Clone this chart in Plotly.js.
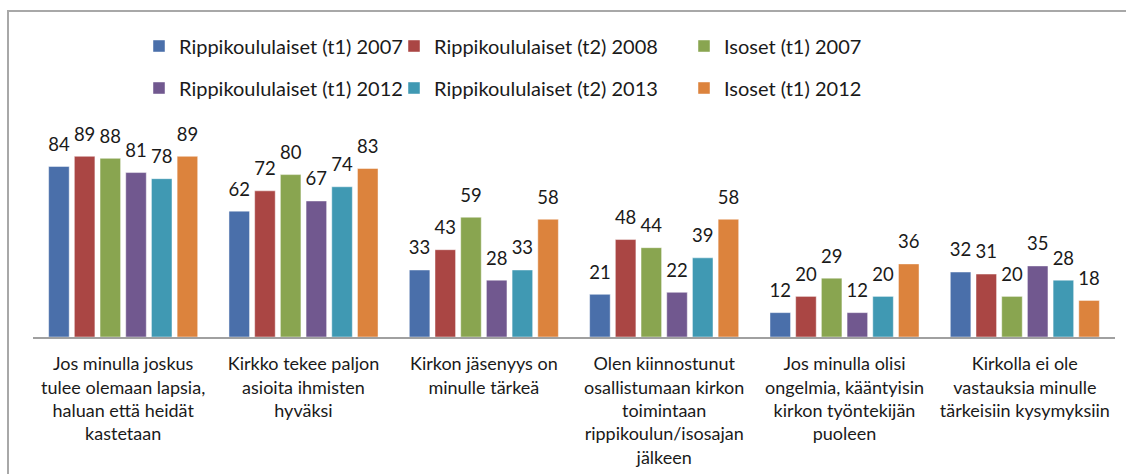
<!DOCTYPE html>
<html>
<head>
<meta charset="utf-8">
<script src="https://cdn.plot.ly/plotly-3.0.1.min.js"></script>
<style>
html,body{margin:0;padding:0;background:#fff;overflow:hidden;}
#wrap{position:relative;width:1126px;height:474px;}
#chart{width:1126px;height:474px;}
#frame{position:absolute;left:7px;top:10px;width:1130px;height:480px;border-left:2px solid #A8A8A8;border-top:2px solid #A8A8A8;pointer-events:none;}
</style>
</head>
<body>
<div id="wrap">
<div id="chart"></div>
<div id="frame"></div>
</div>
<script>
const categories = [
  "Jos minulla joskus<br>tulee olemaan lapsia,<br>haluan että heidät<br>kastetaan",
  "Kirkko tekee paljon<br>asioita ihmisten<br>hyväksi",
  "Kirkon jäsenyys on<br>minulle tärkeä",
  "Olen kiinnostunut<br>osallistumaan kirkon<br>toimintaan<br>rippikoulun/isosajan<br>jälkeen",
  "Jos minulla olisi<br>ongelmia, kääntyisin<br>kirkon työntekijän<br>puoleen",
  "Kirkolla ei ole<br>vastauksia minulle<br>tärkeisiin kysymyksiin"
];
const seriesNames = [
  "Rippikoululaiset (t1) 2007",
  "Rippikoululaiset (t2) 2008",
  "Isoset (t1) 2007",
  "Rippikoululaiset (t1) 2012",
  "Rippikoululaiset (t2) 2013",
  "Isoset (t1) 2012"
];
const rippi_t1_2007 = [84, 62, 33, 21, 12, 32];
const rippi_t2_2008 = [89, 72, 43, 48, 20, 31];
const isoset_t1_2007 = [88, 80, 59, 44, 29, 20];
const rippi_t1_2012 = [81, 67, 28, 22, 12, 35];
const rippi_t2_2013 = [78, 74, 33, 39, 20, 28];
const isoset_t1_2012 = [89, 83, 58, 58, 36, 18];

const seriesValues = [rippi_t1_2007, rippi_t2_2008, isoset_t1_2007, rippi_t1_2012, rippi_t2_2013, isoset_t1_2012];
const colors = ["#4A6FAA", "#AA4644", "#89A550", "#71588F", "#4099B3", "#DC833D"];
const FONT = "Lato, 'Open Sans', sans-serif";

// plot area geometry
const L = 33, R = 11, T = 134, B = 137, W = 1126, H = 474;
const pw = W - L - R, ph = H - T - B;
const px = v => (v - L) / pw;
const py = v => (H - B - v) / ph;

// legend text start positions (px) for the 3 columns, and row centres
const legendCols = [180, 435, 725];
const legendRows = [46, 88];
const legendNames = ["legend", "legend2", "legend3", "legend4", "legend5", "legend6"];

const barTraces = seriesValues.map((vals, i) => ({
  type: "bar",
  name: seriesNames[i],
  x: categories,
  y: vals,
  marker: {color: colors[i], line: {color: "rgba(255,255,255,0.45)", width: 1}},
  legend: legendNames[i],
  hoverinfo: "none"
}));

const labelTraces = seriesValues.map((vals, i) => ({
  type: "scatter",
  mode: "markers+text",
  x: categories,
  y: vals,
  text: vals.map(String),
  textposition: "top center",
  textfont: {family: FONT, size: 18.5, color: "#1a1a1a"},
  marker: {size: 16, opacity: 0},
  cliponaxis: false,
  showlegend: false,
  hoverinfo: "none"
}));

const layout = {
  width: W, height: H,
  margin: {l: L, r: R, t: T, b: B, pad: 0},
  paper_bgcolor: "#ffffff",
  plot_bgcolor: "#ffffff",
  barmode: "group",
  bargap: 0.145,
  bargroupgap: 0.2,
  scattermode: "group",
  scattergap: 0.145,
  font: {family: FONT, color: "#1a1a1a"},
  xaxis: {
    type: "category",
    showline: true, linecolor: "#A0A0A0", linewidth: 1.5,
    ticks: "", showgrid: false,
    tickfont: {family: FONT, size: 18, color: "#1a1a1a"},
    tickangle: 0,
    ticklabelstandoff: 10,
    automargin: false
  },
  yaxis: {
    range: [0, 100], visible: false, showgrid: false, zeroline: false
  },
  showlegend: true
};

legendNames.forEach((ln, i) => {
  layout[ln] = {
    orientation: "h",
    x: px(legendCols[i % 3] - 41), xanchor: "left",
    y: py(legendRows[Math.floor(i / 3)]), yanchor: "middle",
    font: {family: FONT, size: 20, color: "#1a1a1a"},
    itemwidth: 30, bgcolor: "rgba(0,0,0,0)", borderwidth: 0
  };
});

Plotly.newPlot("chart", barTraces.concat(labelTraces), layout, {displayModeBar: false, staticPlot: true});
</script>
</body>
</html>
